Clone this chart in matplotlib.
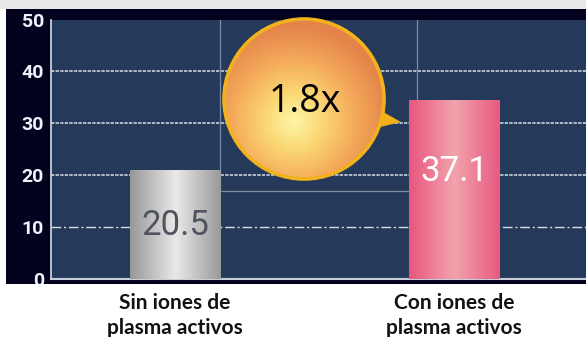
import numpy as np
import matplotlib
matplotlib.use("Agg")
import matplotlib.pyplot as plt
from matplotlib.patches import Rectangle, Circle, Polygon
from matplotlib.colors import LinearSegmentedColormap
from matplotlib.transforms import Bbox, TransformedBbox

# --- data ---
categories = ["Sin iones de\nplasma activos", "Con iones de\nplasma activos"]
values = [20.5, 37.1]          # printed labels
bar_heights = [21.0, 34.5]     # heights as drawn
ratio_label = "1.8x"
y_ticks = [0, 10, 20, 30, 40, 50]

W, H = 586, 337
fig = plt.figure(figsize=(W / 100, H / 100), dpi=100)
fig.patch.set_facecolor("white")

# background layer in pixel coordinates
bg = fig.add_axes([0, 0, 1, 1], zorder=0)
bg.set_xlim(0, W)
bg.set_ylim(H, 0)
bg.axis("off")
bg.add_patch(Rectangle((0, 0), W, 9, facecolor="#e9e9eb", edgecolor="none"))
bg.add_patch(Rectangle((6, 9), W - 6, 275, facecolor="#02021e", edgecolor="none"))

# chart axes
left, right = 51 / W, 1.0
bottom, top = (H - 279) / H, (H - 19.5) / H
ax = fig.add_axes([left, bottom, right - left, top - bottom], zorder=1)
ax.set_facecolor("#253a5a")
ax.set_xlim(-0.444, 1.473)
ax.set_ylim(0, 50)
for s in ["top", "right"]:
    ax.spines[s].set_visible(False)
ax.spines["left"].set_color("#d8dde6")
ax.spines["bottom"].set_color("#c8ced8")
ax.spines["left"].set_linewidth(1.2)
ax.spines["bottom"].set_linewidth(1.5)

ax.set_yticks(y_ticks)
ax.set_yticklabels([str(t) for t in y_ticks])
ax.tick_params(axis="y", length=0, pad=5, labelcolor="#eef2fa")
clip = TransformedBbox(Bbox([[0, (H - 284) / H], [1, 1]]), fig.transFigure)
for lab in ax.get_yticklabels():
    lab.set_fontfamily(["Liberation Sans Narrow", "Roboto", "DejaVu Sans"])
    lab.set_fontweight("bold")
    lab.set_fontsize(14)
    lab.set_clip_box(clip)
    lab.set_clip_on(True)

x = np.arange(len(categories))
ax.set_xticks(x)
ax.set_xticklabels(categories, fontsize=15, fontweight="bold", color="#111111",
                   family=["Lato", "DejaVu Sans"], linespacing=1.3)
ax.tick_params(axis="x", length=0, pad=10)

# gridlines
grid_col = "#d6dce6"
for yv in y_ticks[2:5]:
    ax.axhline(yv, color=grid_col, lw=1.1, ls=(0, (2.2, 0.8)), zorder=1)
ax.axhline(10, color=grid_col, lw=1.0, ls=(0, (7, 2, 1.5, 2)), zorder=1)

# bars with horizontal gradients
bw = 0.323
bars = ax.bar(x, bar_heights, width=bw, color="none", edgecolor="none", zorder=3)
cmaps = [
    LinearSegmentedColormap.from_list("g", ["#979797", "#e9e9e9", "#9a9a9a"]),
    LinearSegmentedColormap.from_list("p", ["#e8567d", "#f1a3ad", "#e85a80"]),
]
grad = np.linspace(0, 1, 256).reshape(1, -1)
for b, cm in zip(bars, cmaps):
    x0, h = b.get_x(), b.get_height()
    im = ax.imshow(grad, cmap=cm, extent=(x0, x0 + bw, 0, h), aspect="auto",
                   zorder=3, interpolation="bicubic")
    im.set_clip_path(b)
ax.set_xlim(-0.444, 1.473)
ax.set_ylim(0, 50)

# value labels
label_frac = [0.49, 0.60]
label_cols = ["#50545f", "white"]
for xi, h, v, fr, c in zip(x, bar_heights, values, label_frac, label_cols):
    ax.text(xi, h * fr, f"{v:.1f}", ha="center", va="center", fontsize=25,
            family=["Roboto", "DejaVu Sans"], color=c, zorder=4)

# bracket lines
line_col = "#7d8aa0"
xr0 = x[0] + bw / 2
xl1 = x[1] - bw / 2
ax.plot([xr0, xr0], [17.0, 50], color=line_col, lw=0.9, zorder=2)
ax.plot([xr0, xl1], [17.0, 17.0], color=line_col, lw=0.9, zorder=2)
ax.plot([xl1 + 0.03, xl1 + 0.03], [bar_heights[1], 50], color=line_col, lw=0.9, zorder=2)

# bubble overlay
fg = fig.add_axes([0, 0, 1, 1], zorder=2)
fg.set_xlim(0, W)
fg.set_ylim(H, 0)
fg.axis("off")
fg.patch.set_alpha(0)

cx, cy, r = 304, 99, 80
fg.add_patch(Polygon([[376, 108], [401, 122], [376, 128]], closed=True,
                     facecolor="#f2b01a", edgecolor="none", zorder=1))
yy, xx = np.mgrid[cy - r:cy + r:300j, cx - r:cx + r:300j]
d = np.hypot(xx - (cx - 10), yy - (cy + 22)) / (r * 1.2)
bubble_cm = LinearSegmentedColormap.from_list(
    "b", [(0, "#fdf6a8"), (0.3, "#fbd774"), (0.65, "#f4a95a"), (1.0, "#e4844a")])
img = fg.imshow(np.clip(d, 0, 1), cmap=bubble_cm, vmin=0, vmax=1,
                extent=(cx - r, cx + r, cy + r, cy - r), zorder=2, aspect="auto")
circ = Circle((cx, cy), r, facecolor="none", edgecolor="#f1b21c", lw=2.6, zorder=3)
fg.add_patch(circ)
img.set_clip_path(circ)
fg.text(cx + 1, cy + 3, ratio_label, ha="center", va="center", fontsize=27,
        family=["Open Sans", "DejaVu Sans"], color="black", zorder=4)

fig.savefig("out.png", dpi=100, facecolor=fig.get_facecolor())
